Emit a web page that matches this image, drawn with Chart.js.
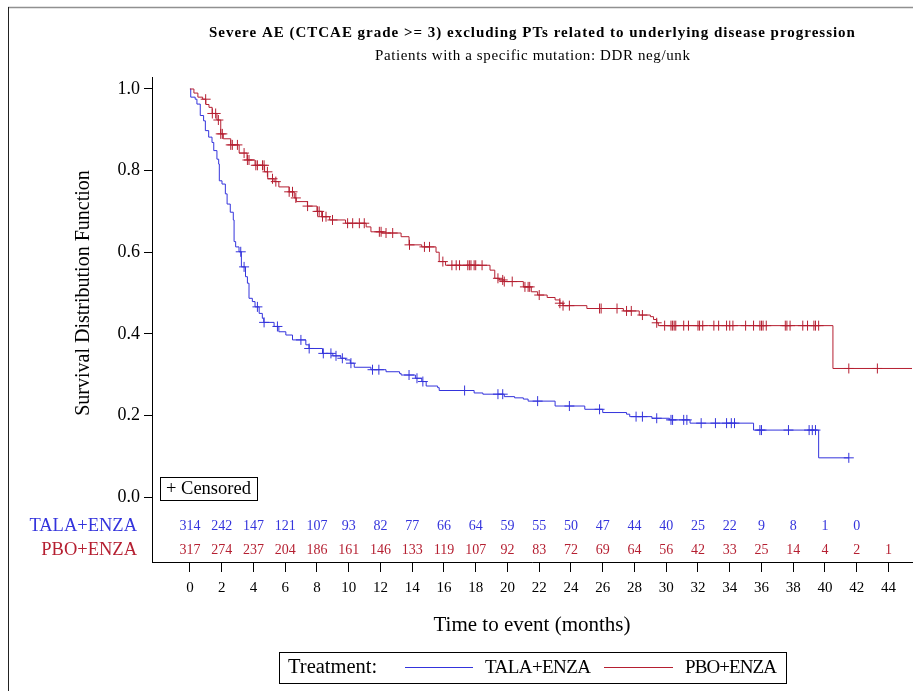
<!DOCTYPE html>
<html>
<head>
<meta charset="utf-8">
<script src="https://cdn.jsdelivr.net/npm/chart.js@4/dist/chart.umd.min.js"></script>
<style>
  html, body { margin: 0; padding: 0; background: #fff; }
  canvas { display: block; }
</style>
</head>
<body>
<canvas id="km" width="913" height="691"></canvas>
<script>
// ---- Kaplan-Meier data (months, survival probability) ----
const xTickValues = [0,2,4,6,8,10,12,14,16,18,20,22,24,26,28,30,32,34,36,38,40,42,44];
const yTickValues = [0.0, 0.2, 0.4, 0.6, 0.8, 1.0];

// Numbers at risk at each 2-month tick
const talaAtRisk = [314,242,147,121,107,93,82,77,66,64,59,55,50,47,44,40,25,22,9,8,1,0];
const pboAtRisk  = [317,274,237,204,186,161,146,133,119,107,92,83,72,69,64,56,42,33,25,14,4,2,1];

// TALA+ENZA: step times and survival after each step (last entry = end of follow-up)
const talaTimes = [0,0.05,0.33,0.44,0.65,0.86,0.97,1.18,1.39,1.5,1.7,1.81,1.85,2.02,2.23,2.34,2.54,2.73,2.78,2.88,3.09,3.24,3.5,3.62,3.72,3.93,4.1,4.36,4.56,4.65,5.3,5.6,6.04,6.46,7.3,7.5,8.35,9.0,9.5,9.8,10.1,10.35,11.4,12.35,13.2,13.3,14.2,14.6,14.88,15.6,15.7,17.9,18.45,19.8,20.45,21.0,21.3,23.0,24.87,26.0,27.5,27.7,29.1,30.2,31.5,35.5,39.6,41.5];
const talaSurv  = [1.0,0.98,0.975,0.963,0.935,0.922,0.898,0.882,0.869,0.849,0.828,0.816,0.775,0.767,0.743,0.718,0.698,0.679,0.626,0.613,0.601,0.564,0.54,0.524,0.487,0.479,0.466,0.45,0.438,0.428,0.418,0.405,0.397,0.385,0.373,0.364,0.352,0.346,0.34,0.336,0.328,0.318,0.312,0.307,0.303,0.299,0.291,0.283,0.272,0.268,0.261,0.255,0.252,0.246,0.243,0.24,0.235,0.223,0.215,0.207,0.203,0.197,0.193,0.189,0.181,0.164,0.096,0.096];
const talaCensored = [3.2,3.41,4.25,4.67,5.51,6.99,7.51,8.4,8.88,9.2,9.6,10.14,11.5,11.9,13.8,14.3,14.67,17.3,19.4,19.7,21.9,23.9,25.8,28.1,28.5,29.4,30.3,30.4,31.1,31.3,32.2,33.1,33.8,34.1,34.3,35.9,36.0,37.7,39.0,39.2,39.4,41.5];

// PBO+ENZA
const pboTimes = [0,0.25,0.5,0.8,1.0,1.2,1.4,1.7,1.94,2.1,2.57,3.1,3.6,4.1,4.7,4.9,5.3,5.6,6.25,6.57,6.7,7.4,8.0,8.3,8.8,9.8,11.1,11.4,12.1,13.3,13.8,14.6,15.5,15.7,16.1,18.9,19.2,19.5,19.8,21.0,21.5,21.9,22.5,23.0,23.3,23.5,25.0,27.3,28.3,29.0,29.2,29.4,29.5,40.5,45.6];
const pboSurv  = [1.0,0.99,0.98,0.975,0.962,0.955,0.94,0.924,0.89,0.878,0.863,0.843,0.826,0.813,0.797,0.78,0.773,0.76,0.748,0.733,0.724,0.713,0.70,0.687,0.679,0.671,0.662,0.65,0.647,0.638,0.618,0.613,0.60,0.577,0.568,0.556,0.536,0.532,0.528,0.515,0.503,0.495,0.489,0.483,0.475,0.469,0.462,0.456,0.446,0.442,0.435,0.427,0.42,0.315,0.315];
const pboCensored = [0.99,1.41,1.62,1.79,1.94,2.04,2.57,2.67,2.99,3.41,3.62,3.72,4.15,4.25,4.57,4.67,4.88,5.2,5.41,6.25,6.46,6.67,7.41,8.04,8.14,8.35,8.57,8.98,9.93,10.25,10.67,10.98,11.93,12.04,12.35,12.77,13.83,14.77,15.09,15.93,16.5,16.77,16.98,17.5,17.6,17.7,17.9,18.0,18.4,19.4,19.7,19.8,20.3,21.1,21.3,21.4,22.0,23.3,23.5,23.9,25.8,25.9,26.9,27.5,27.8,28.5,29.4,29.9,30.3,30.4,30.5,30.6,31.1,31.4,32.0,32.1,32.3,33.0,33.3,33.8,34.0,34.2,35.0,35.5,35.9,36.0,36.1,36.3,37.5,37.6,37.8,38.6,38.9,39.3,39.4,39.6,41.5,43.3];

const groupNames = ['TALA+ENZA', 'PBO+ENZA'];
const titleText = 'Severe AE (CTCAE grade >= 3) excluding PTs related to underlying disease progression';
const subtitleText = 'Patients with a specific mutation: DDR neg/unk';
const yAxisTitle = 'Survival Distribution Function';
const xAxisTitle = 'Time to event (months)';

// ---- styling ----
const BLUE = '#3434DC';
const RED = '#B51F31';
const SERIF = '"Liberation Serif", "Times New Roman", serif';

function survAt(times, surv, t) {
  let s = surv[0];
  for (let i = 0; i < times.length; i++) {
    if (times[i] <= t) s = surv[i]; else break;
  }
  return s;
}
const stepPoints = (times, surv) => times.map((t, i) => ({ x: t, y: surv[i] }));
const censorPoints = (times, surv, cens) => cens.map(t => ({ x: t, y: survAt(times, surv, t) }));

// Draws text spread to a given width, starting at x
function spreadText(ctx, text, x, y, width) {
  const w0 = ctx.measureText(text).width;
  ctx.letterSpacing = ((width - w0) / (text.length - 1)).toFixed(2) + 'px';
  ctx.fillText(text, x, y);
  ctx.letterSpacing = '0px';
}

// Page decorations: titles, axis titles, at-risk table, censor key, treatment legend
const decorations = {
  id: 'decorations',
  beforeDraw(chart) {
    const ctx = chart.ctx;
    ctx.save();
    ctx.fillStyle = '#fff';
    ctx.fillRect(0, 0, chart.width, chart.height);
    ctx.strokeStyle = '#909090';
    ctx.lineWidth = 1.5;
    ctx.beginPath(); ctx.moveTo(8, 7.5); ctx.lineTo(chart.width, 7.5); ctx.stroke();
    ctx.strokeStyle = '#222';
    ctx.lineWidth = 1;
    ctx.beginPath(); ctx.moveTo(8.5, 7); ctx.lineTo(8.5, chart.height); ctx.stroke();
    ctx.restore();
  },
  afterDraw(chart) {
    const ctx = chart.ctx;
    const xs = chart.scales.x, ys = chart.scales.y;
    const area = chart.chartArea;
    const cx = (area.left + area.right) / 2;
    ctx.save();
    ctx.fillStyle = '#000';
    ctx.textBaseline = 'middle';
    ctx.textAlign = 'left';

    ctx.font = 'bold 15px ' + SERIF;
    spreadText(ctx, titleText, cx - 323, 33, 646);
    ctx.font = '15px ' + SERIF;
    spreadText(ctx, subtitleText, cx - 157, 56, 315);

    // y axis title, centred on the 0..1 range
    ctx.textAlign = 'center';
    ctx.save();
    ctx.translate(84, (ys.getPixelForValue(0) + ys.getPixelForValue(1)) / 2);
    ctx.rotate(-Math.PI / 2);
    ctx.font = '20px ' + SERIF;
    ctx.fillText(yAxisTitle, 0, 0);
    ctx.restore();

    ctx.font = '21px ' + SERIF;
    ctx.fillText(xAxisTitle, cx, 625);

    // at-risk table
    const rows = [
      { name: groupNames[0], vals: talaAtRisk, color: BLUE, y: 526 },
      { name: groupNames[1], vals: pboAtRisk, color: RED, y: 550 }
    ];
    rows.forEach(r => {
      ctx.fillStyle = r.color;
      ctx.font = '18.5px ' + SERIF;
      ctx.textAlign = 'right';
      ctx.fillText(r.name, 137, r.y);
      ctx.font = '14px ' + SERIF;
      ctx.textAlign = 'center';
      r.vals.forEach((v, i) => {
        ctx.fillText(String(v), xs.getPixelForValue(xTickValues[i]), r.y);
      });
    });

    // censor key box
    ctx.strokeStyle = '#000';
    ctx.lineWidth = 1;
    ctx.strokeRect(160.5, 477.5, 97, 23);
    ctx.fillStyle = '#000';
    ctx.textAlign = 'left';
    ctx.font = '18.5px ' + SERIF;
    ctx.fillText('+ Censored', 166, 489.5);

    // treatment legend
    ctx.strokeRect(279.5, 652.5, 507, 31);
    ctx.font = '20.5px ' + SERIF;
    ctx.fillText('Treatment:', 288, 668);
    ctx.font = '19px ' + SERIF;
    ctx.lineWidth = 1;
    ctx.strokeStyle = BLUE;
    ctx.beginPath(); ctx.moveTo(405, 667.5); ctx.lineTo(473, 667.5); ctx.stroke();
    spreadText(ctx, groupNames[0], 485, 668, 106);
    ctx.strokeStyle = RED;
    ctx.beginPath(); ctx.moveTo(604, 667.5); ctx.lineTo(673, 667.5); ctx.stroke();
    spreadText(ctx, groupNames[1], 685, 668, 92);

    ctx.restore();
  }
};

const xMin = -2.39, xMax = 45.48;
const yMin = -0.1593, yMax = 1.0294;

new Chart(document.getElementById('km'), {
  type: 'line',
  data: {
    datasets: [
      { label: groupNames[1], data: stepPoints(pboTimes, pboSurv), borderColor: RED, borderWidth: 1, stepped: true, pointRadius: 0, fill: false },
      { label: groupNames[0], data: stepPoints(talaTimes, talaSurv), borderColor: BLUE, borderWidth: 1, stepped: true, pointRadius: 0, fill: false },
      { label: groupNames[1] + ' censored', data: censorPoints(pboTimes, pboSurv, pboCensored), showLine: false, pointStyle: 'cross', pointRadius: 5, pointHoverRadius: 5, pointBorderWidth: 1, pointBorderColor: RED, borderColor: RED },
      { label: groupNames[0] + ' censored', data: censorPoints(talaTimes, talaSurv, talaCensored), showLine: false, pointStyle: 'cross', pointRadius: 5, pointHoverRadius: 5, pointBorderWidth: 1, pointBorderColor: BLUE, borderColor: BLUE }
    ]
  },
  options: {
    responsive: false,
    animation: false,
    devicePixelRatio: 1,
    events: [],
    layout: { autoPadding: false, padding: { top: 77, right: 1, left: 0, bottom: 0 } },
    plugins: { legend: { display: false }, tooltip: { enabled: false }, title: { display: false } },
    scales: {
      x: {
        type: 'linear', min: xMin, max: xMax,
        afterBuildTicks: s => { s.ticks = xTickValues.map(v => ({ value: v })); },
        afterFit: s => { s.height = 129; s.paddingLeft = 0; s.paddingRight = 0; },
        grid: { display: true, drawOnChartArea: false, drawTicks: true, tickLength: 10, color: '#000', lineWidth: 1 },
        border: { display: true, color: '#000', width: 1 },
        ticks: { color: '#000', font: { family: SERIF, size: 15 }, padding: 7, maxRotation: 0, autoSkip: false }
      },
      y: {
        type: 'linear', min: yMin, max: yMax,
        afterBuildTicks: s => { s.ticks = yTickValues.map(v => ({ value: v })); },
        afterFit: s => { s.width = 152; s.paddingTop = 0; s.paddingBottom = 0; },
        grid: { display: true, drawOnChartArea: false, drawTicks: true, tickLength: 8, color: '#000', lineWidth: 1 },
        border: { display: true, color: '#000', width: 1 },
        ticks: { color: '#000', font: { family: SERIF, size: 18 }, padding: 4, callback: v => Number(v).toFixed(1) }
      }
    }
  },
  plugins: [decorations]
});
</script>
</body>
</html>
